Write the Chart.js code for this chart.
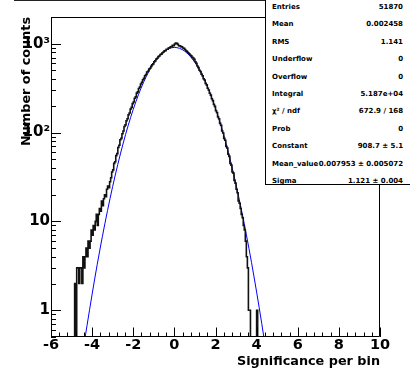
<!DOCTYPE html>
<html><head><meta charset="utf-8">
<script src="https://cdn.jsdelivr.net/npm/chart.js@4/dist/chart.umd.min.js"></script>
<style>
html,body{margin:0;padding:0;background:#fff;}
#wrap{position:relative;width:410px;height:369px;overflow:hidden;background:#fff;}
#c{position:absolute;left:0;top:0;}
#titlebox{position:absolute;left:14px;top:-19px;width:300px;height:20px;box-sizing:border-box;border:1px solid #222;background:#fff;}
#stats{position:absolute;left:265px;top:-5px;width:160px;height:190px;box-sizing:border-box;border:1px solid #000;background:#fff;font-family:"DejaVu Sans";font-weight:bold;font-size:7px;color:#000;}
.lab{position:absolute;left:6px;white-space:nowrap;line-height:8px;}
.val{position:absolute;right:21px;white-space:nowrap;line-height:8px;text-align:right;}
</style></head>
<body><div id="wrap"><canvas id="c" width="410" height="369"></canvas><div id="titlebox"></div><div id="stats"></div></div>
<script>
// ---------------- data ----------------
const xMin = -6, xMax = 10;
const yMin = 0.5, yMax = 2000;
const binWidth = 0.05;
const firstBinLow = -4.85;
const counts = [
 1,2,0,3,3,2,3,3,2,4, 3,4,5,4,6,5,6,8,7,9,
 8,10,12,9,12,14,13,17,15,18, 20,19,23,25,24,28,31,36,38,45,
 47,55,58,68,72,83,86,97,104,117, 122,136,143,159,166,184,192,212,221,243,
 252,278,287,314,326,352,367,394,408,437, 451,481,490,519,529,556,581,594,626,641,
 672,686,717,728,756,764,791,806,832,836, 866,868,894,902,925,928,958,951,994,1018,
 1009,985,951,946,928,921,894,887,861,832, 818,789,773,747,733,702,691,668,627,603,
 561,538,504,487,455,437,404,390,358,344, 315,301,277,264,240,229,207,197,176,168,
 150,143,127,121,104,99,86,82,70,67, 57,54,45,43,36,35,29,27,23,21,
 17,16,14,12,11,9,8,6,4,3, 1,1,0,0,0,0,0,0,1
];
const fitX = [-4.5,-4.25,-4,-3.75,-3.5,-3.25,-3,-2.75,-2.5,-2.25,-2,-1.75,-1.5,-1.25,-1,-0.75,-0.5,-0.25,0,
  0.25,0.5,0.75,1,1.25,1.5,1.75,2,2.25,2.5,2.75,3,3.25,3.5,3.75,4,4.25,4.5];
const fitY = [0.296,0.669,1.52,3.30,6.79,13.3,24.8,44.0,74.3,119.5,182.7,265.6,367.7,484.2,606.6,723.1,820.0,884.9,908.7,
  887.8,825.3,730.0,614.3,491.9,374.8,271.7,187.4,123.0,76.8,45.6,25.8,13.9,7.10,3.46,1.60,0.706,0.296];
const xMajorTicks = [-6,-4,-2,0,2,4,6,8,10];
const xMinorStep = 0.4;
const yLabelTicks = [1,10,100,1000];
const yLabelText = ['1','10','10\u00b2','10\u00b3'];
const statLabels = ['Entries','Mean','RMS','Underflow','Overflow','Integral','\u03c7\u00b2 / ndf','Prob','Constant','Mean_value','Sigma'];
const statValues = ['51870','0.002458','1.141','0','0','5.187e+04','672.9 / 168','0','908.7 \u00b1 5.1','0.007953 \u00b1 0.005072','1.121 \u00b1 0.004'];
const xTitle = 'Significance per bin';
const yTitle = 'Number of counts';

// ---------------- stats box ----------------
const stats = document.getElementById('stats');
statLabels.forEach((l,i)=>{
  const top = 6 + i*17.4 + 5 - 4;
  const a = document.createElement('div'); a.className='lab'; a.style.top = top+'px'; a.textContent = l; stats.appendChild(a);
  const b = document.createElement('div'); b.className='val'; b.style.top = top+'px'; b.textContent = statValues[i]; stats.appendChild(b);
});

// ---------------- chart ----------------
const below = yMin * 0.4;
const histPts = [{x: firstBinLow, y: below}];
counts.forEach((c,i)=>histPts.push({x: firstBinLow + i*binWidth, y: c > 0 ? c : below}));
histPts.push({x: firstBinLow + counts.length*binWidth, y: below});
const fitPts = fitX.map((x,i)=>({x, y: fitY[i]}));

const rootAxes = {
  id: 'rootAxes',
  afterDraw(chart){
    const {ctx, chartArea:a, scales:{x, y}} = chart;
    ctx.save();
    ctx.strokeStyle = '#000'; ctx.lineWidth = 1;
    ctx.beginPath();
    ctx.rect(Math.round(a.left)+0.5, Math.round(a.top)+0.5, Math.round(a.right-a.left)-1, Math.round(a.bottom-a.top)-1);
    ctx.stroke();
    ctx.beginPath();
    for (let d = 0.1; d <= 1000; d *= 10) {
      for (let m = 1; m <= 9; m++) {
        const v = Math.round(d*m*1000)/1000;
        if (v < yMin || v > yMax) continue;
        const py = Math.round(y.getPixelForValue(v)) + 0.5;
        const len = (m === 1) ? 10 : 5;
        ctx.moveTo(a.left, py); ctx.lineTo(a.left + len, py);
      }
    }
    const nMinor = Math.round((xMax - xMin)/xMinorStep);
    for (let k = 0; k <= nMinor; k++) {
      const v = xMin + k*xMinorStep;
      const px = Math.round(x.getPixelForValue(v)) + 0.5;
      ctx.moveTo(px, a.bottom); ctx.lineTo(px, a.bottom - 4.5);
    }
    xMajorTicks.forEach(v=>{
      const px = Math.round(x.getPixelForValue(v)) + 0.5;
      ctx.moveTo(px, a.bottom); ctx.lineTo(px, a.bottom - 9.5);
    });
    ctx.stroke();
    ctx.restore();
  }
};

const boldFont = (s)=>({family:'DejaVu Sans', weight:'bold', size:s});

new Chart(document.getElementById('c').getContext('2d'), {
  type: 'line',
  data: { datasets: [
    { data: histPts, stepped: 'after', borderColor: '#111', borderWidth: 1.6, pointRadius: 0, fill: false },
    { data: fitPts, borderColor: '#0000ff', borderWidth: 1, pointRadius: 0, fill: false, cubicInterpolationMode: 'monotone' }
  ]},
  options: {
    responsive: false, animation: false, devicePixelRatio: 1,
    layout: { padding: { left: 0, right: 30, top: 17, bottom: 0 } },
    plugins: { legend: { display: false }, tooltip: { enabled: false } },
    scales: {
      x: {
        type: 'linear', min: xMin, max: xMax,
        grid: { display: false, drawTicks: false }, border: { display: false },
        afterBuildTicks(s){ s.ticks = xMajorTicks.map(v=>({value:v})); },
        ticks: { padding: 0, color: '#000', font: boldFont(14.5), maxRotation: 0, autoSkip: false, callback: v => String(v) },
        title: { display: true, text: xTitle, align: 'end', color: '#000', font: boldFont(12.8), padding: { top: 0, bottom: 0 } },
        afterFit(s){ s.height = 32; }
      },
      y: {
        type: 'logarithmic', min: yMin, max: yMax,
        grid: { display: false, drawTicks: false }, border: { display: false },
        afterBuildTicks(s){ s.ticks = yLabelTicks.map(v=>({value:v})); },
        ticks: { padding: 1, color: '#000', font: boldFont(15), autoSkip: false,
          callback: (v) => { const i = yLabelTicks.indexOf(v); return i >= 0 ? yLabelText[i] : ''; } },
        title: { display: true, text: yTitle, align: 'end', color: '#000', font: boldFont(12.8), padding: { top: 19, bottom: 0 } },
        afterFit(s){ s.width = 51; }
      }
    }
  },
  plugins: [rootAxes]
});
</script></body></html>
